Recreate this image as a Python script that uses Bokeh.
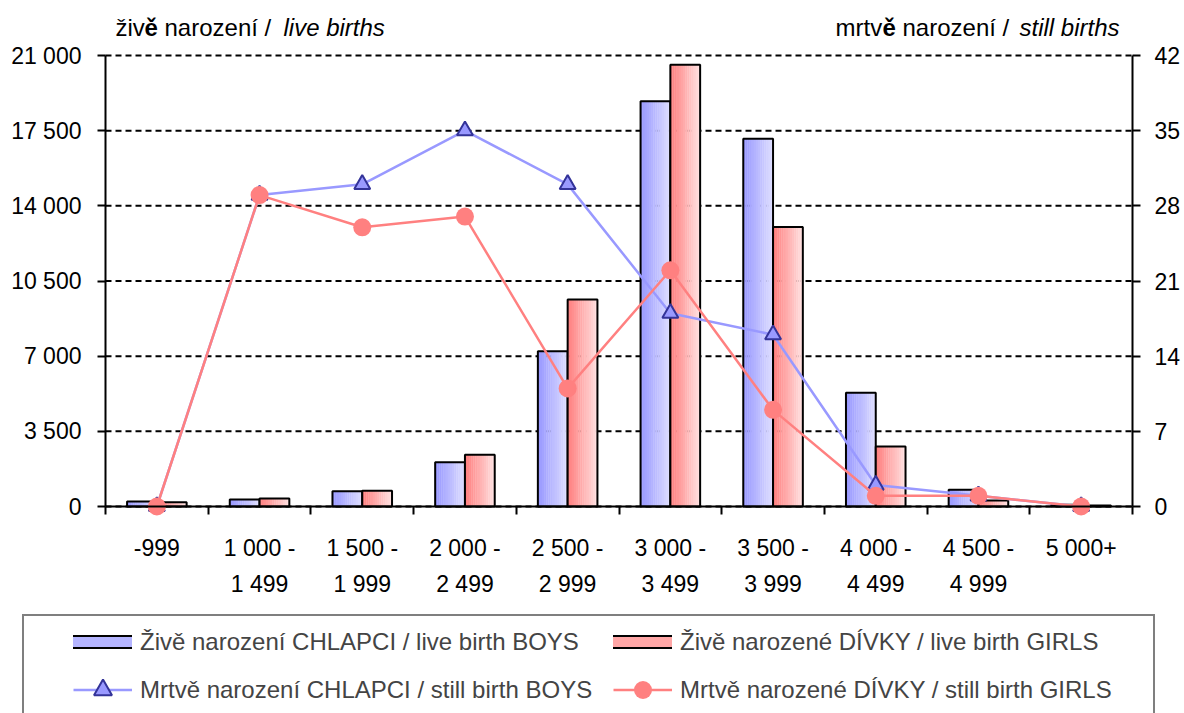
from bokeh.plotting import figure
from bokeh.models import (Range1d, LinearAxis, FixedTicker, Legend, LegendItem,
                          Label, ColumnDataSource)
from bokeh.embed import file_html
from bokeh.resources import INLINE

# ---------------- data ----------------
categories_line1 = ["-999", "1 000 -", "1 500 -", "2 000 -", "2 500 -",
                    "3 000 -", "3 500 -", "4 000 -", "4 500 -", "5 000+"]
categories_line2 = ["", "1 499", "1 999", "2 499", "2 999",
                    "3 499", "3 999", "4 499", "4 999", ""]
live_boys = [233, 326, 712, 2063, 7231, 18872, 17121, 5300, 778, 80]
live_girls = [200, 372, 731, 2407, 9639, 20567, 13019, 2794, 280, 50]
still_boys = [0, 29, 30, 35, 30, 18, 16, 2, 1, 0]
still_girls = [0, 29, 26, 27, 11, 22, 9, 1, 1, 0]
left_ticks = [0, 3500, 7000, 10500, 14000, 17500, 21000]
left_tick_labels = ["0", "3 500", "7 000", "10 500", "14 000", "17 500", "21 000"]
right_ticks = [0, 7, 14, 21, 28, 35, 42]
right_tick_labels = ["0", "7", "14", "21", "28", "35", "42"]
legend_labels = ["Živě narození CHLAPCI / live birth BOYS",
                 "Mrtvě narození CHLAPCI / still birth BOYS",
                 "Živě narozené DÍVKY / live birth GIRLS",
                 "Mrtvě narozené DÍVKY / still birth GIRLS"]

FONT = "Liberation Sans"
TICK_FS = "23px"
BOY_LINE, BOY_EDGE = "#9999FF", "#333399"
GIRL_LINE = "#FF8080"
BOY0, BOY1 = (153, 153, 255), (220, 220, 255)
GIRL0, GIRL1 = (255, 128, 128), (255, 222, 222)
idx = list(range(len(categories_line1)))

# ---------------- page / plot-area geometry (pixels) ----------------
W, H = 1184, 713
AREA_L, AREA_R, AREA_T, AREA_B = 105, 1132, 55, 506
n = len(idx)
x_lo, x_hi = -0.5, n - 0.5
y_top, y2_top = left_ticks[-1], right_ticks[-1]
xs = (AREA_R - AREA_L) / (x_hi - x_lo)           # px per category
ys = (AREA_B - AREA_T) / y_top                   # px per live birth
ys2 = (AREA_B - AREA_T) / y2_top                 # px per still birth

p = figure(width=W, height=H, output_backend="svg", toolbar_location=None,
           x_axis_type=None, y_axis_type=None, min_border=0,
           x_range=Range1d(x_lo - AREA_L / xs, x_hi + (W - AREA_R) / xs),
           y_range=Range1d(-(H - AREA_B) / ys, y_top + AREA_T / ys))
p.extra_y_ranges = {"still": Range1d(-(H - AREA_B) / ys2, y2_top + AREA_T / ys2)}
p.outline_line_color = None
p.background_fill_color = "white"
p.border_fill_color = "white"
p.xgrid.visible = False
p.ygrid.visible = False

# dashed horizontal grid lines across the plot area only
p.segment(x0=[x_lo] * len(left_ticks), x1=[x_hi] * len(left_ticks),
          y0=left_ticks, y1=left_ticks, line_color="black", line_width=2,
          line_dash="6 4")


def style_axis(ax):
    ax.axis_line_color = "black"
    ax.axis_line_width = 2
    ax.major_tick_line_color = "black"
    ax.major_tick_line_width = 2
    ax.minor_tick_line_color = None
    ax.major_label_text_font = FONT
    ax.major_label_text_font_size = TICK_FS
    ax.major_label_text_color = "black"


yl = LinearAxis(ticker=FixedTicker(ticks=left_ticks), fixed_location=x_lo,
                bounds=(0, y_top))
style_axis(yl)
yl.major_label_overrides = dict(zip(left_ticks, left_tick_labels))
yl.major_tick_out = 8
yl.major_tick_in = 0
yl.major_label_standoff = 16
p.add_layout(yl, "left")

yr = LinearAxis(y_range_name="still", ticker=FixedTicker(ticks=right_ticks),
                fixed_location=x_hi, bounds=(0, y2_top))
style_axis(yr)
yr.major_label_overrides = dict(zip(right_ticks, right_tick_labels))
yr.major_tick_out = 8
yr.major_tick_in = 0
yr.major_label_standoff = 14
p.add_layout(yr, "right")

bounds = [i - 0.5 for i in idx] + [idx[-1] + 0.5]
xa = LinearAxis(ticker=FixedTicker(ticks=idx, minor_ticks=bounds), fixed_location=0,
                bounds=(x_lo, x_hi))
style_axis(xa)
xa.major_label_overrides = dict(zip(idx, categories_line1))
xa.major_tick_out = 0
xa.major_tick_in = 0
xa.minor_tick_line_color = "black"
xa.minor_tick_line_width = 2
xa.minor_tick_out = 8
xa.minor_tick_in = 0
xa.major_label_standoff = 20
p.add_layout(xa, "below")

xb = LinearAxis(ticker=FixedTicker(ticks=idx), fixed_location=0, bounds=(x_lo, x_hi))
style_axis(xb)
xb.axis_line_color = None
xb.major_tick_line_color = None
xb.major_tick_out = 0
xb.major_tick_in = 0
xb.major_label_overrides = dict(zip(idx, categories_line2))
xb.major_label_standoff = 64
p.add_layout(xb, "below")

# ---------------- gradient bars ----------------
BAR_W = 0.29
N_STRIPS = 14


def lerp(c0, c1, t):
    return "#%02x%02x%02x" % tuple(round(a + (b - a) * t) for a, b in zip(c0, c1))


def gradient_bars(values, offset, c0, c1):
    sw = BAR_W / N_STRIPS
    for i in range(N_STRIPS):
        t = i / (N_STRIPS - 1)
        off = offset - BAR_W / 2 + (i + 0.5) * sw
        src = ColumnDataSource(dict(x=[k + off for k in idx], top=values))
        p.vbar(x="x", top="top", bottom=0, width=sw * 1.15, source=src,
               fill_color=lerp(c0, c1, t), line_color=None)
    src = ColumnDataSource(dict(x=[k + offset for k in idx], top=values))
    p.vbar(x="x", top="top", bottom=0, width=BAR_W, source=src,
           fill_color=None, line_color="black", line_width=2)
    # hidden stand-ins, used only to draw a bordered swatch in the legend
    border = p.line(x="x", y="top", source=src, line_color="black", line_width=14,
                    line_cap="square", visible=False)
    fill = p.line(x="x", y="top", source=src, line_color=lerp(c0, c1, 0.4),
                  line_width=10, line_cap="square", visible=False)
    return [border, fill]


boy_swatch = gradient_bars(live_boys, -BAR_W / 2, BOY0, BOY1)
girl_swatch = gradient_bars(live_girls, BAR_W / 2, GIRL0, GIRL1)

# ---------------- still births (right axis) ----------------
sb = ColumnDataSource(dict(x=idx, y=still_boys))
sg = ColumnDataSource(dict(x=idx, y=still_girls))
lb = p.line("x", "y", source=sb, y_range_name="still", line_color=BOY_LINE, line_width=2.5)
mb = p.scatter("x", "y", source=sb, y_range_name="still", marker="triangle", size=16,
               fill_color=BOY_LINE, line_color=BOY_EDGE, line_width=2)
lg = p.line("x", "y", source=sg, y_range_name="still", line_color=GIRL_LINE, line_width=2.5)
mg = p.scatter("x", "y", source=sg, y_range_name="still", marker="circle", size=18,
               fill_color=GIRL_LINE, line_color=None)

# ---------------- legend ----------------
legend = Legend(items=[
    LegendItem(label=legend_labels[0], renderers=boy_swatch),
    LegendItem(label=legend_labels[1], renderers=[lb, mb]),
    LegendItem(label=legend_labels[2], renderers=girl_swatch),
    LegendItem(label=legend_labels[3], renderers=[lg, mg]),
], ncols=2, nrows=2, location=(22, -4))
legend.label_text_font = FONT
legend.label_text_font_size = "24px"
legend.label_standoff = 8
legend.label_width = 470
legend.glyph_width = 59
legend.glyph_height = 45
legend.spacing = 3
legend.padding = 3
legend.margin = 0
legend.border_line_color = "black"
legend.border_line_width = 2
legend.background_fill_alpha = 1
legend.title = " "
legend.title_location = "left"
legend.title_text_font_size = "1px"
legend.title_standoff = 45
p.add_layout(legend, "center")


# ---------------- axis titles ----------------
def add_label(x, text, style="normal"):
    p.add_layout(Label(x=x, y=H - 27, x_units="screen", y_units="screen", text=text,
                       text_font=FONT, text_font_size="24px", text_font_style=style,
                       text_baseline="middle", text_color="black"))


add_label(115, "živ")
add_label(144, "ě", "bold")
add_label(164, "narození /")
add_label(283, "live births", "italic")
add_label(835, "mrtv")
add_label(882, "ě", "bold")
add_label(902, "narození /")
add_label(1019, "still births", "italic")

open("out.html", "w").write(file_html(p, INLINE))
